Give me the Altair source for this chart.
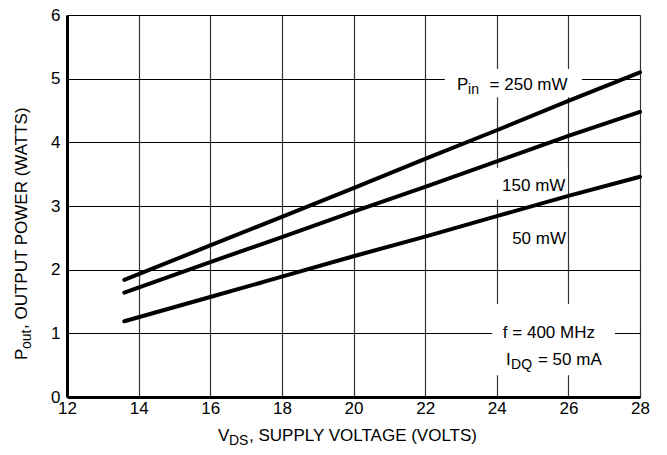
import altair as alt
import pandas as pd

# ---- data ----
vds = [13.6, 16, 18, 20, 22, 24, 26, 28]
p250 = [1.84, 2.38, 2.83, 3.28, 3.74, 4.19, 4.65, 5.10]
p150 = [1.64, 2.12, 2.51, 2.91, 3.30, 3.70, 4.10, 4.48]
p50 = [1.19, 1.57, 1.89, 2.21, 2.52, 2.84, 3.16, 3.46]
series_names = ["250 mW", "150 mW", "50 mW"]

# in-plot annotation pieces (text, x, baseline y, font size)
ann_text = ["P", "in", "= 250 mW", "150 mW", "50 mW", "f = 400 MHz", "I", "DQ", "= 50 mA"]
ann_x = [22.89, 23.20, 23.80, 24.15, 24.43, 24.17, 24.26, 24.40, 25.15]
ann_y = [4.822, 4.76, 4.822, 3.24, 2.40, 0.93, 0.496, 0.434, 0.496]
ann_size = [17, 14, 17, 17, 17, 17, 17, 14, 17]

# white label backgrounds (x, x2, y, y2 in data units)
box_x = [22.55, 23.81, 23.87]
box_x2 = [26.38, 25.99, 27.30]
box_y = [5.15, 3.60, 1.46]
box_y2 = [4.71, 3.10, 0.34]

FONT = "Liberation Sans, Arial, sans-serif"

rows = []
for name, vals in zip(series_names, [p250, p150, p50]):
    for x, y in zip(vds, vals):
        rows.append({"series": name, "vds": x, "pout": y})
lines_df = pd.DataFrame(rows)
ann_df = pd.DataFrame({"text": ann_text, "x": ann_x, "y": ann_y, "size": ann_size})
box_df = pd.DataFrame({"x": box_x, "x2": box_x2, "y": box_y, "y2": box_y2})

xscale = alt.Scale(domain=[12, 28], nice=False, zero=False)
yscale = alt.Scale(domain=[0, 6], nice=False)

xaxis = alt.Axis(values=list(range(12, 29, 2)), title=None, grid=True, format="d",
                 gridColor="#333333", gridWidth=1.2, gridOpacity=1,
                 ticks=False, domainColor="black", domainWidth=3,
                 labelFont=FONT, labelFontSize=17, labelColor="black",
                 labelPadding=3, labelFlush=False)
yaxis = alt.Axis(values=list(range(0, 7)), title=None, grid=True, format="d",
                 gridColor="black", gridWidth=1.2, gridOpacity=1,
                 ticks=False, domainColor="black", domainWidth=3,
                 labelFont=FONT, labelFontSize=17, labelColor="black",
                 labelPadding=7, labelFlush=False)

boxes = alt.Chart(box_df).mark_rect(color="white").encode(
    x=alt.X("x:Q", scale=xscale, axis=xaxis),
    x2="x2:Q",
    y=alt.Y("y:Q", scale=yscale, axis=yaxis),
    y2="y2:Q",
)

lines = alt.Chart(lines_df).mark_line(color="black", strokeWidth=4, strokeCap="round").encode(
    x=alt.X("vds:Q", scale=xscale),
    y=alt.Y("pout:Q", scale=yscale),
    detail="series:N",
)

ann = alt.Chart(ann_df).mark_text(align="left", baseline="alphabetic", font=FONT, color="black").encode(
    x=alt.X("x:Q", scale=xscale),
    y=alt.Y("y:Q", scale=yscale),
    text="text:N",
    size=alt.Size("size:Q", scale=None, legend=None),
)

layers = [boxes, lines, ann]

# axis titles with subscripts (pixel positions relative to plot area)
title_pieces = [
    # text, x, y, size, angle
    ("V", 151, 426, 17, 0),
    ("DS", 162, 430, 14, 0),
    (", SUPPLY VOLTAGE (VOLTS)", 182, 426, 17, 0),
    ("P", -40, 345, 17, 270),
    ("out", -36, 334, 14, 270),
    (" , OUTPUT POWER (WATTS)", -40, 314, 17, 270),
]
for t, px, py, fs, ang in title_pieces:
    layers.append(
        alt.Chart(ann_df).mark_text(text=t, align="left", baseline="alphabetic",
                                    font=FONT, fontSize=fs, angle=ang, color="black").encode(
            x=alt.value(px), y=alt.value(py)
        ).transform_filter("datum.text == 'P'")
    )

chart = alt.layer(*layers).properties(
    width=573, height=382,
    autosize=alt.AutoSizeParams(type="none"),
    padding={"left": 59, "top": 7, "right": 19, "bottom": 50},
).configure_view(stroke="#555555", strokeWidth=2).configure(background="white")

chart.save("out.html", embed_options={"renderer": "svg", "actions": False})
